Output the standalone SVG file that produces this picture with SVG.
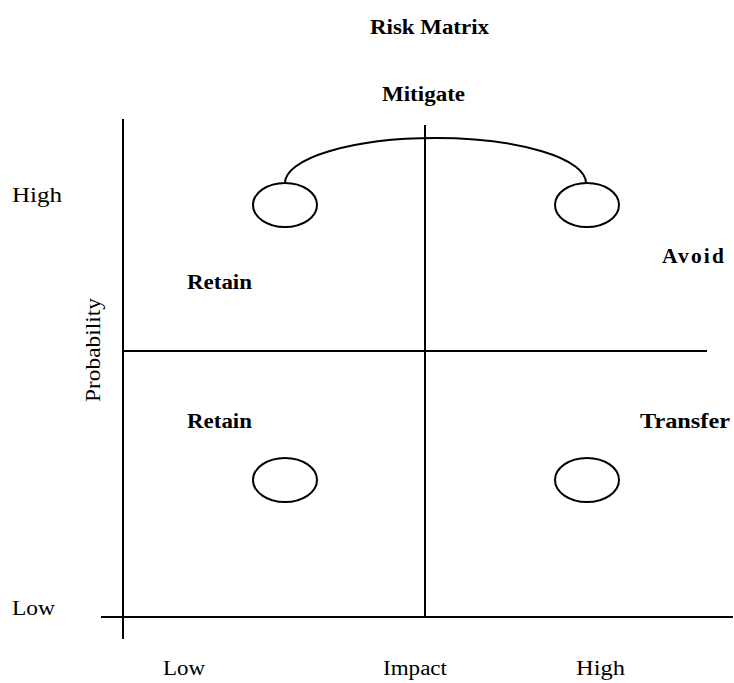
<svg xmlns="http://www.w3.org/2000/svg" width="734" height="683" viewBox="0 0 734 683">
  <style>
    .axis { stroke: #000; stroke-width: 2; fill: none; }
    .node { stroke: #000; stroke-width: 2; fill: #fff; }
    .link { stroke: #000; stroke-width: 2; fill: none; }
    .lbl { font-family: "Liberation Serif", "Times New Roman", serif; font-size: 20px; fill: #000; }
    .bold { font-weight: bold; }
  </style>
  <rect width="734" height="683" fill="#fff"/>

  <!-- titles -->
  <text class="lbl bold" x="370" y="34" textLength="119" lengthAdjust="spacingAndGlyphs">Risk Matrix</text>
  <text class="lbl bold" x="382" y="101" textLength="83" lengthAdjust="spacingAndGlyphs">Mitigate</text>

  <!-- axes and quadrant dividers -->
  <g id="grid">
    <line class="axis" x1="123" y1="119" x2="123" y2="639"/>
    <line class="axis" x1="101" y1="617" x2="733" y2="617"/>
    <line class="axis" x1="425" y1="125" x2="425" y2="617"/>
    <line class="axis" x1="123" y1="351" x2="707" y2="351"/>
  </g>

  <!-- axis labels -->
  <text class="lbl" x="12" y="202" textLength="50" lengthAdjust="spacingAndGlyphs">High</text>
  <text class="lbl" x="12" y="615" textLength="43" lengthAdjust="spacingAndGlyphs">Low</text>
  <text class="lbl" x="100" y="402" transform="rotate(-90 100 402)" textLength="104" lengthAdjust="spacingAndGlyphs">Probability</text>
  <text class="lbl" x="163" y="675" textLength="42" lengthAdjust="spacingAndGlyphs">Low</text>
  <text class="lbl" x="383" y="675" textLength="64" lengthAdjust="spacingAndGlyphs">Impact</text>
  <text class="lbl" x="576" y="675" textLength="49" lengthAdjust="spacingAndGlyphs">High</text>

  <!-- quadrant labels -->
  <text class="lbl bold" x="187" y="289" textLength="65" lengthAdjust="spacingAndGlyphs">Retain</text>
  <text class="lbl bold" x="187" y="428" textLength="65" lengthAdjust="spacingAndGlyphs">Retain</text>
  <text class="lbl bold" x="662" y="263" letter-spacing="2" textLength="64" lengthAdjust="spacingAndGlyphs">Avoid</text>
  <text class="lbl bold" x="640" y="428" textLength="90" lengthAdjust="spacingAndGlyphs">Transfer</text>

  <!-- connectors -->
  <g id="connectors">
    <path class="link" d="M 285 183 A 150.5 45 0 0 1 586 183"/>
  </g>

  <!-- risk nodes -->
  <g id="node-hl"><ellipse class="node" cx="285" cy="205" rx="32" ry="22"/></g>
  <g id="node-hh"><ellipse class="node" cx="587" cy="205" rx="32" ry="22"/></g>
  <g id="node-ll"><ellipse class="node" cx="285" cy="480" rx="32" ry="22"/></g>
  <g id="node-lh"><ellipse class="node" cx="587" cy="480" rx="32" ry="22"/></g>
</svg>
